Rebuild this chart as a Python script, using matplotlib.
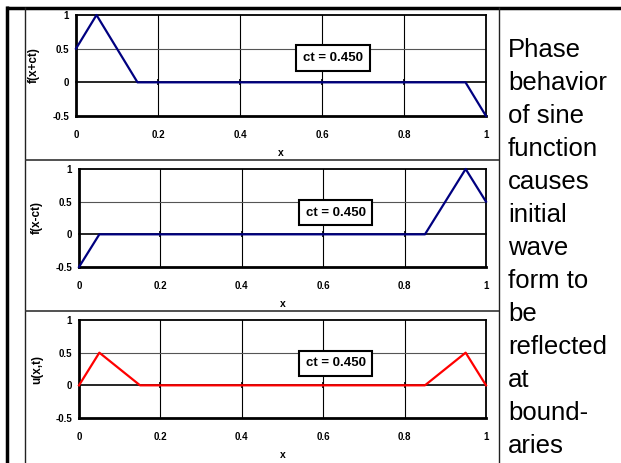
import matplotlib.pyplot as plt
from matplotlib.lines import Line2D

plt.rcParams['font.family'] = ['Liberation Sans', 'DejaVu Sans']

# x grid and the three curves at ct = 0.450
x = [0.0, 0.05, 0.10, 0.15, 0.20, 0.25, 0.30, 0.35, 0.40, 0.45, 0.50,
     0.55, 0.60, 0.65, 0.70, 0.75, 0.80, 0.85, 0.90, 0.95, 1.0]
f_plus = [0.5, 1.0, 0.5, 0.0, 0.0, 0.0, 0.0, 0.0, 0.0, 0.0, 0.0,
          0.0, 0.0, 0.0, 0.0, 0.0, 0.0, 0.0, 0.0, 0.0, -0.5]
f_minus = [-0.5, 0.0, 0.0, 0.0, 0.0, 0.0, 0.0, 0.0, 0.0, 0.0, 0.0,
           0.0, 0.0, 0.0, 0.0, 0.0, 0.0, 0.0, 0.5, 1.0, 0.5]
u_xt = [0.0, 0.5, 0.25, 0.0, 0.0, 0.0, 0.0, 0.0, 0.0, 0.0, 0.0,
        0.0, 0.0, 0.0, 0.0, 0.0, 0.0, 0.0, 0.25, 0.5, 0.0]

xticks = [0, 0.2, 0.4, 0.6, 0.8, 1]
xtick_labels = ['0', '0.2', '0.4', '0.6', '0.8', '1']
yticks = [-0.5, 0, 0.5, 1]
ytick_labels = ['-0.5', '0', '0.5', '1']
ylabels = ['f(x+ct)', 'f(x-ct)', 'u(x,t)']
colors = ['#000080', '#000080', '#ff0000']
ct_text = 'ct = 0.450'
side_text = ['Phase', 'behavior', 'of sine', 'function', 'causes', 'initial',
             'wave', 'form to', 'be', 'reflected', 'at', 'bound-', 'aries']

W, H = 621, 463
fig = plt.figure(figsize=(W / 100, H / 100), dpi=100)


def px(l, t, r, b):
    return [l / W, (H - b) / H, (r - l) / W, (b - t) / H]


def fline(xs, ys, **kw):
    fig.add_artist(Line2D(xs, ys, transform=fig.transFigure, solid_capstyle='butt', **kw))


# frame lines of the slide
fline([7 / W, 7 / W], [0, 1 - 6 / H], color='black', lw=2.5)
fline([6 / W, 1], [1 - 7.5 / H, 1 - 7.5 / H], color='black', lw=2.5)
fline([25 / W, 25 / W], [0, 1 - 7 / H], color='#222222', lw=1)
fline([499 / W, 499 / W], [0, 1 - 7 / H], color='#222222', lw=1)
for yy in [160, 311]:
    fline([25 / W, 499 / W], [1 - yy / H, 1 - yy / H], color='#333333', lw=1.2)

boxes = [(76, 15, 486, 116), (79, 169, 486, 267), (79, 320, 486, 418)]
ct_pos = [(0.627, 0.36), (0.631, 0.33), (0.631, 0.34)]
ys = [f_plus, f_minus, u_xt]

for i in range(3):
    ax = fig.add_axes(px(*boxes[i]))
    ax.set_xlim(0, 1)
    ax.set_ylim(-0.5, 1)
    for xv in xticks[1:-1]:
        ax.axvline(xv, color='black', lw=0.8, zorder=1)
    ax.axhline(0.5, color='#555555', lw=0.8, zorder=1)
    ax.plot(x, ys[i], color=colors[i], lw=1.6, zorder=3, clip_on=False)
    ax.set_xticks(xticks)
    ax.set_xticklabels(xtick_labels, fontsize=7, fontweight='bold')
    ax.set_yticks(yticks)
    ax.set_yticklabels(ytick_labels, fontsize=7, fontweight='bold')
    ax.tick_params(axis='both', length=0, pad=5)
    ax.tick_params(axis='x', pad=10)
    for s in ['left', 'bottom']:
        ax.spines[s].set_linewidth(2)
    for s in ['top', 'right']:
        ax.spines[s].set_linewidth(1.3)
    # x axis crossing at y = 0
    sec = ax.secondary_xaxis(1 / 3)
    sec.set_xticks(xticks[1:-1])
    sec.set_xticklabels([])
    sec.tick_params(direction='inout', length=4, width=1.2)
    sec.spines['bottom'].set_linewidth(1.2)
    ax.set_xlabel('x', fontsize=7.5, fontweight='bold', labelpad=6)
    ax.set_ylabel(ylabels[i], fontsize=8.5, fontweight='bold', labelpad=9)
    ax.text(ct_pos[i][0], ct_pos[i][1], ct_text, fontsize=9.5, fontweight='bold',
            ha='center', va='center', zorder=5,
            bbox=dict(boxstyle='square,pad=0.5', fc='white', ec='black', lw=1.5))

for k, line in enumerate(side_text):
    fig.text(508 / W, 1 - (50 + 33 * k) / H, line, fontsize=18.5, va='center', ha='left')

fig.savefig('out.png', dpi=100)
